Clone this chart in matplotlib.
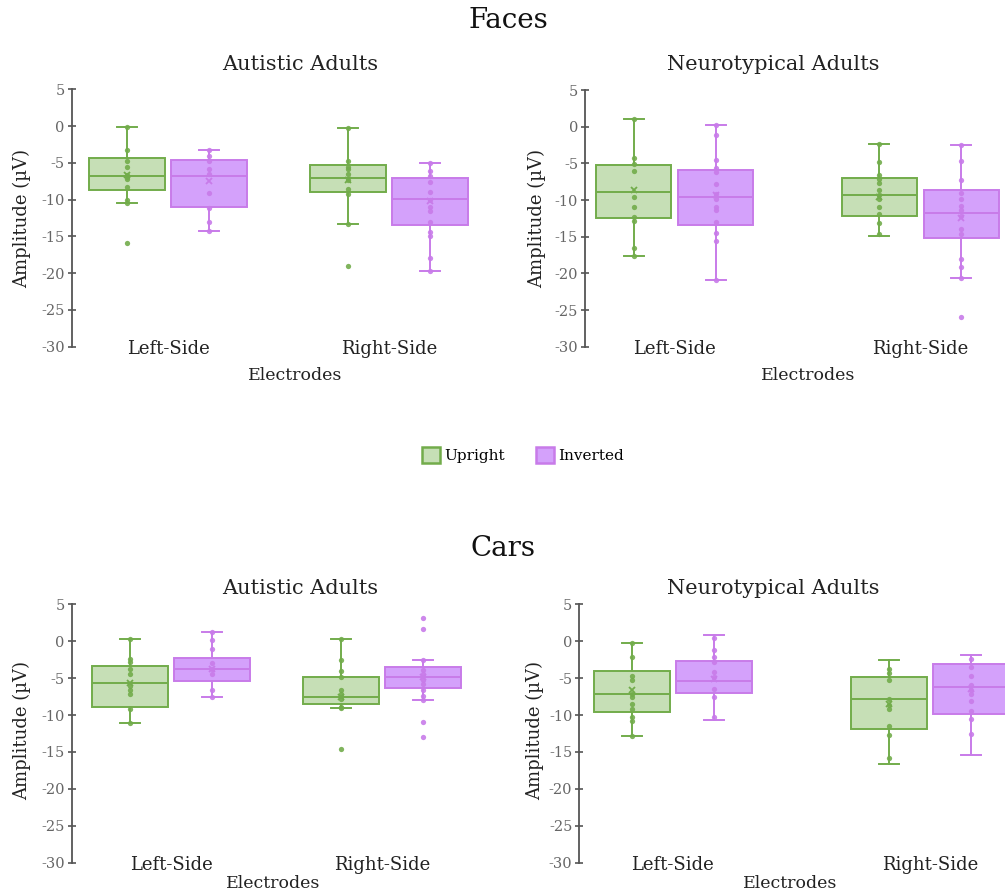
import matplotlib
matplotlib.use("Agg")
import matplotlib.pyplot as plt
from matplotlib.patches import Patch

# ---------------- data ----------------
categories = ["Left-Side", "Right-Side"]
conditions = ["Upright", "Inverted"]
yticks = [5, 0, -5, -10, -15, -20, -25, -30]

# box order in each panel: Left-Upright, Left-Inverted, Right-Upright, Right-Inverted
faces_aut_whislo = [-10.4, -14.2, -13.3, -19.7]
faces_aut_q1 = [-8.7, -11.0, -8.9, -13.4]
faces_aut_med = [-6.8, -6.8, -7.0, -9.9]
faces_aut_q3 = [-4.3, -4.6, -5.3, -7.1]
faces_aut_whishi = [-0.1, -3.3, -0.3, -5.0]
faces_aut_mean = [-6.7, -7.5, -7.4, -10.2]
faces_aut_points = [
    [-0.1, -3.2, -4.7, -5.6, -6.6, -6.9, -7.2, -8.3, -10.0, -10.4, -15.9],
    [-3.3, -4.1, -4.7, -5.8, -6.5, -9.1, -11.2, -13.1, -14.2],
    [-0.3, -4.7, -5.5, -5.9, -6.5, -7.3, -8.5, -9.2, -13.3, -19.0],
    [-5.0, -6.1, -6.8, -7.6, -9.0, -10.1, -11.0, -11.6, -13.1, -14.4, -14.9, -18.0, -19.7],
]

faces_nt_whislo = [-17.6, -20.9, -14.9, -20.6]
faces_nt_q1 = [-12.4, -13.4, -12.2, -15.2]
faces_nt_med = [-8.9, -9.6, -9.3, -11.8]
faces_nt_q3 = [-5.2, -5.9, -7.0, -8.6]
faces_nt_whishi = [1.0, 0.2, -2.3, -2.5]
faces_nt_mean = [-8.6, -9.3, -9.6, -12.4]
faces_nt_points = [
    [1.0, -4.3, -5.1, -6.0, -9.6, -11.0, -12.3, -12.9, -16.6, -17.6],
    [0.2, -1.1, -4.6, -5.6, -6.2, -7.8, -9.2, -9.8, -10.9, -11.4, -13.0, -14.5, -15.6, -20.9],
    [-2.3, -4.8, -6.6, -7.1, -7.7, -8.7, -9.3, -9.8, -11.0, -11.9, -13.2, -14.6],
    [-2.5, -4.7, -7.3, -9.0, -9.8, -10.8, -11.4, -12.2, -13.9, -14.6, -18.1, -19.1, -20.6, -26.0],
]

cars_aut_whislo = [-11.1, -7.5, -9.1, -8.0]
cars_aut_q1 = [-8.9, -5.4, -8.5, -6.3]
cars_aut_med = [-5.6, -3.8, -7.5, -4.9]
cars_aut_q3 = [-3.3, -2.3, -4.9, -3.5]
cars_aut_whishi = [0.3, 1.2, 0.3, -2.6]
cars_aut_mean = [-5.7, -3.8, -7.5, -4.9]
cars_aut_points = [
    [0.3, -2.4, -2.8, -3.8, -4.4, -6.0, -6.6, -7.1, -9.2, -11.1],
    [1.2, 0.1, -1.1, -3.0, -3.8, -4.5, -6.6, -7.5],
    [0.3, -2.6, -4.0, -4.9, -6.6, -7.1, -7.8, -8.9, -9.1, -14.6],
    [3.1, 1.6, -2.6, -3.9, -4.4, -5.2, -5.8, -6.6, -7.4, -8.0, -11.0, -13.0],
]

cars_nt_whislo = [-12.9, -10.7, -16.6, -15.4]
cars_nt_q1 = [-9.6, -7.0, -11.9, -9.8]
cars_nt_med = [-7.1, -5.4, -7.8, -6.2]
cars_nt_q3 = [-4.1, -2.7, -4.8, -3.1]
cars_nt_whishi = [-0.2, 0.8, -2.6, -1.8]
cars_nt_mean = [-6.6, -5.1, -8.5, -6.5]
cars_nt_points = [
    [-0.2, -2.2, -4.7, -5.2, -7.2, -7.5, -8.5, -9.2, -10.2, -10.8, -12.8],
    [0.5, -1.2, -2.1, -2.8, -4.2, -4.9, -6.5, -7.5, -10.3],
    [-3.8, -4.3, -5.3, -7.8, -8.7, -9.2, -11.5, -12.7, -15.8],
    [-2.4, -3.5, -4.7, -5.9, -6.6, -7.1, -8.1, -9.4, -10.5, -12.5],
]

# ---------------- style ----------------
FIG_W, FIG_H = 1005, 894
edge_colors = ["#72AC4B", "#C87BE9"]
fill_colors = ["#C6DFB6", "#D4A1FB"]
SERIF = ["DejaVu Serif"]
TICK_GRAY = "#666666"
plt.rcParams["font.family"] = SERIF

fig = plt.figure(figsize=(FIG_W / 100, FIG_H / 100), dpi=100)
fig.patch.set_facecolor("white")

BOX_PX = 75.7
OFF_PX = 41.0
CAP_PX = 20.0

# layout per panel: axis x px, top (y=5) px, bottom (y=-30) px, right px, category centres px
panels = [
    dict(ax_x=71.7, top=89.3, bot=346.7, right=490, c1=168.0, c2=389.0,
         stats=(faces_aut_whislo, faces_aut_q1, faces_aut_med, faces_aut_q3, faces_aut_whishi, faces_aut_mean),
         pts=faces_aut_points),
    dict(ax_x=585.0, top=90.0, bot=346.7, right=1020, c1=674.5, c2=920.4,
         stats=(faces_nt_whislo, faces_nt_q1, faces_nt_med, faces_nt_q3, faces_nt_whishi, faces_nt_mean),
         pts=faces_nt_points),
    dict(ax_x=71.7, top=604.3, bot=862.7, right=490, c1=171.0, c2=382.3,
         stats=(cars_aut_whislo, cars_aut_q1, cars_aut_med, cars_aut_q3, cars_aut_whishi, cars_aut_mean),
         pts=cars_aut_points),
    dict(ax_x=579.3, top=604.3, bot=862.7, right=1020, c1=672.8, c2=930.0,
         stats=(cars_nt_whislo, cars_nt_q1, cars_nt_med, cars_nt_q3, cars_nt_whishi, cars_nt_mean),
         pts=cars_nt_points),
]

for p in panels:
    left = p["ax_x"] / FIG_W
    bottom = 1 - p["bot"] / FIG_H
    width = (p["right"] - p["ax_x"]) / FIG_W
    height = (p["bot"] - p["top"]) / FIG_H
    ax = fig.add_axes([left, bottom, width, height])
    s = p["c2"] - p["c1"]
    ax.set_xlim(-(p["c1"] - p["ax_x"]) / s, (p["right"] - p["c1"]) / s)
    ax.set_ylim(-30, 5)
    bw = BOX_PX / s
    off = OFF_PX / s
    whislo, q1, med, q3, whishi, mean = p["stats"]
    for i in range(4):
        cat = i // 2
        cond = i % 2
        pos = cat + (-off if cond == 0 else off)
        ec = edge_colors[cond]
        fc = fill_colors[cond]
        st = dict(whislo=whislo[i], q1=q1[i], med=med[i], q3=q3[i],
                  whishi=whishi[i], mean=mean[i], fliers=[])
        ax.bxp([st], positions=[pos], widths=bw, capwidths=CAP_PX / s,
               patch_artist=True, showmeans=True, showfliers=False,
               boxprops=dict(facecolor=fc, edgecolor=ec, linewidth=1.4),
               medianprops=dict(color=ec, linewidth=1.4),
               whiskerprops=dict(color=ec, linewidth=1.4),
               capprops=dict(color=ec, linewidth=1.4),
               meanprops=dict(marker="x", markeredgecolor=ec, markersize=5,
                              markeredgewidth=1.3),
               manage_ticks=False, zorder=2)
        vals = p["pts"][i]
        ax.plot([pos] * len(vals), vals, "o", color=ec, markersize=3.8,
                markeredgewidth=0, alpha=0.9, zorder=3)

    for sp in ["top", "right", "bottom"]:
        ax.spines[sp].set_visible(False)
    ax.spines["left"].set_color("#555555")
    ax.spines["left"].set_linewidth(1.3)
    ax.set_yticks(yticks)
    ax.set_yticklabels([str(v) for v in yticks])
    ax.tick_params(axis="y", direction="inout", length=6, width=1.2,
                   color="#555555", labelcolor=TICK_GRAY, labelsize=10.5, pad=2)
    ax.set_xticks([0, 1])
    ax.set_xticklabels(categories, fontsize=13, color="#222222")
    ax.tick_params(axis="x", length=0, pad=-5)
    ax.patch.set_visible(False)

# ---------------- texts ----------------
def ftext(x, y, s, **kw):
    fig.text(x / FIG_W, 1 - y / FIG_H, s, ha="center", va="center", **kw)

ftext(508, 21, "Faces", fontsize=20, color="#111111")
ftext(503, 548, "Cars", fontsize=20, color="#111111")
ftext(300, 65, "Autistic Adults", fontsize=15, color="#222222")
ftext(773, 65, "Neurotypical Adults", fontsize=15, color="#222222")
ftext(300, 589, "Autistic Adults", fontsize=15, color="#222222")
ftext(773, 589, "Neurotypical Adults", fontsize=15, color="#222222")
ftext(295, 375, "Electrodes", fontsize=12.5, color="#222222")
ftext(808, 375, "Electrodes", fontsize=12.5, color="#222222")
ftext(273, 884, "Electrodes", fontsize=12.5, color="#222222")
ftext(790, 884, "Electrodes", fontsize=12.5, color="#222222")
ftext(22, 218, "Amplitude (\u00b5V)", fontsize=13, rotation=90, color="#222222")
ftext(537, 218, "Amplitude (\u00b5V)", fontsize=13, rotation=90, color="#222222")
ftext(22, 730, "Amplitude (\u00b5V)", fontsize=13, rotation=90, color="#222222")
ftext(535, 730, "Amplitude (\u00b5V)", fontsize=13, rotation=90, color="#222222")

handles = [Patch(facecolor=fill_colors[k], edgecolor=edge_colors[k], linewidth=1.8)
           for k in range(2)]
fig.legend(handles, conditions, loc="center", bbox_to_anchor=(523 / FIG_W, 1 - 455 / FIG_H),
           ncol=2, frameon=False, fontsize=11, handlelength=1.2, handleheight=1.2,
           handletextpad=0.3, columnspacing=2.0)

fig.savefig("out.png", dpi=100, facecolor="white")
